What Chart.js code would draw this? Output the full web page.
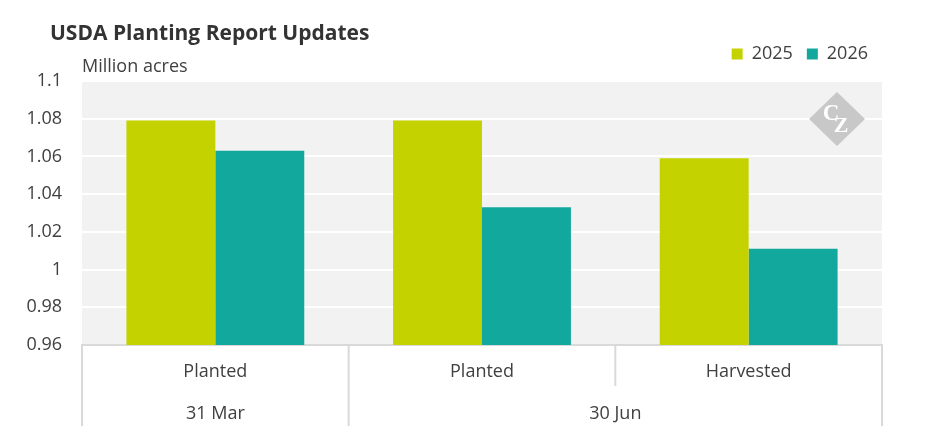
<!DOCTYPE html>
<html>
<head>
<meta charset="utf-8">
<script src="https://cdn.jsdelivr.net/npm/chart.js@4.4.1/dist/chart.umd.min.js"></script>
<style>
  body { margin: 0; background: #fff; }
  .wrap { width: 945px; height: 443px; position: relative; }
</style>
</head>
<body>
<div class="wrap"><canvas id="myChart"></canvas></div>
<script>
var categories = ["Planted", "Planted", "Harvested"];
var groups = ["31 Mar", "30 Jun"];
var groupIndex = [0, 1, 1];
var values2025 = [1.079, 1.079, 1.059];
var values2026 = [1.063, 1.033, 1.011];
var yTicks = [0.96, 0.98, 1, 1.02, 1.04, 1.06, 1.08, 1.1];

var textColor = "#404040";
var lineColor = "#d9d9d9";
var font = "'Open Sans', 'Noto Sans', sans-serif";

// grey plot area, lines + labels under the axis, title, unit, logo
var decor = {
  id: "decor",
  beforeInit: function (chart) {
    var fit = chart.legend.fit;
    chart.legend.fit = function () {
      fit.call(this);
      this.height += 8;
    };
  },
  beforeDraw: function (chart) {
    var a = chart.chartArea;
    var c = chart.ctx;
    c.save();
    c.fillStyle = "#f2f2f2";
    c.fillRect(a.left, a.top, a.right - a.left, a.bottom - a.top);
    c.restore();
  },
  afterDraw: function (chart) {
    var c = chart.ctx;
    var a = chart.chartArea;
    var x = chart.scales.x;
    var half = (x.getPixelForValue(1) - x.getPixelForValue(0)) / 2;

    c.save();
    c.strokeStyle = lineColor;
    c.lineWidth = 2;
    for (var i = 0; i <= categories.length; i++) {
      var px = i < categories.length ? x.getPixelForValue(i) - half : x.getPixelForValue(i - 1) + half;
      var edge = i === 0 || i === categories.length || groupIndex[i] !== groupIndex[i - 1];
      c.beginPath();
      c.moveTo(px, a.bottom);
      c.lineTo(px, a.bottom + (edge ? 81 : 41));
      c.stroke();
    }

    c.fillStyle = textColor;
    c.font = "18px " + font;
    c.textAlign = "center";
    c.textBaseline = "middle";
    groups.forEach(function (g, gi) {
      var idx = [];
      groupIndex.forEach(function (v, k) { if (v === gi) idx.push(k); });
      var cx = (x.getPixelForValue(idx[0]) + x.getPixelForValue(idx[idx.length - 1])) / 2;
      c.fillText(g, cx, a.bottom + 69);
    });

    c.textAlign = "left";
    c.fillText("Million acres", a.left, a.top - 14);

    c.fillStyle = "#333333";
    c.font = "bold 21px " + font;
    c.fillText("USDA Planting Report Updates", 50, 34);

    // logo
    var lx = a.right - 45, ly = a.top + 38;
    c.fillStyle = "#c8c8c8";
    c.beginPath();
    c.moveTo(lx, ly - 27);
    c.lineTo(lx + 28, ly);
    c.lineTo(lx, ly + 27);
    c.lineTo(lx - 28, ly);
    c.closePath();
    c.fill();
    c.fillStyle = "#ffffff";
    c.font = "bold 23px 'Liberation Serif', 'DejaVu Serif', serif";
    c.textAlign = "center";
    c.fillText("C", lx - 6, ly - 5);
    c.font = "bold 22px 'Liberation Serif', 'DejaVu Serif', serif";
    c.fillText("Z", lx + 4, ly + 7);
    c.restore();
  }
};

var ctx = document.getElementById("myChart").getContext("2d");
var myChart = new Chart(ctx, {
  type: "bar",
  data: {
    labels: categories,
    datasets: [
      {
        label: "2025",
        data: values2025,
        backgroundColor: "#c4d300",
        categoryPercentage: 0.667,
        barPercentage: 1,
      },
      {
        label: "2026",
        data: values2026,
        backgroundColor: "#13a89e",
        categoryPercentage: 0.667,
        barPercentage: 1,
      },
    ],
  },
  options: {
    responsive: true,
    maintainAspectRatio: false,
    animation: false,
    layout: {
      padding: { left: 0, right: 63, top: 31, bottom: 0 },
    },
    plugins: {
      legend: {
        position: "top",
        align: "end",
        labels: {
          boxWidth: 11,
          boxHeight: 11,
          padding: 14,
          color: textColor,
          font: { family: font, size: 18 },
        },
      },
      tooltip: { enabled: false },
    },
    scales: {
      x: {
        grid: { display: false },
        border: { display: true, color: lineColor, width: 2 },
        ticks: {
          color: textColor,
          padding: 8,
          font: { family: font, size: 18 },
        },
        afterFit: function (s) { s.height = 98; },
      },
      y: {
        min: yTicks[0],
        max: yTicks[yTicks.length - 1],
        afterBuildTicks: function (s) {
          s.ticks = yTicks.map(function (v) { return { value: v }; });
        },
        grid: { color: "#ffffff", lineWidth: 2, drawTicks: false },
        border: { display: false },
        ticks: {
          color: textColor,
          padding: 20,
          font: { family: font, size: 18 },
          callback: function (v) { return String(Number(v.toFixed(2))); },
        },
        afterFit: function (s) { s.width = 82; },
      },
    },
  },
  plugins: [decor],
});
</script>
</body>
</html>
